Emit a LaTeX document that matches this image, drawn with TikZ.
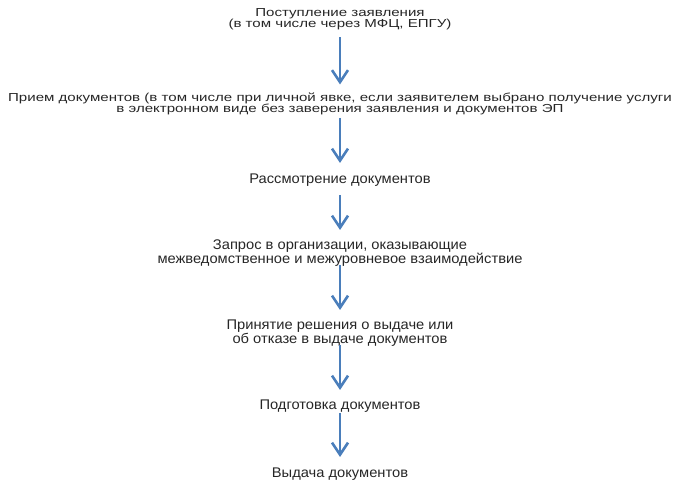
\documentclass[tikz,border=0pt]{standalone}
\usepackage{fontspec}
\setmainfont{Liberation Sans}
\newfontfamily\topfont[FakeStretch=1.3]{Liberation Sans}
\newfontfamily\lowfont[FakeStretch=1.05]{Liberation Sans}
\usetikzlibrary{arrows.meta,positioning}
\definecolor{flowblue}{HTML}{4A7EBB}
\definecolor{flowtext}{HTML}{262626}

\begin{document}
\begin{tikzpicture}[x=1pt,y=1pt,node distance=75pt,on grid,
    toptext/.style={inner sep=0pt,align=center,text=flowtext,
      font=\topfont\fontsize{11.6}{11}\selectfont},
    lowtext/.style={inner sep=0pt,align=center,text=flowtext,
      font=\lowfont\fontsize{14}{12}\selectfont},
    flow/.style={color=flowblue,line width=2.6pt,
      -{Straight Barb[length=12pt,width=16pt]}}]
   \useasboundingbox (0,0) rectangle (689,-502);
   \node [toptext] (recv) at (340,-19.5) {Поступление заявления\\(в том числе через МФЦ, ЕПГУ)};
   \node [toptext, below=84pt of recv] (accept) {Прием документов (в том числе при личной явке, если заявителем выбрано получение услуги\\в электронном виде без заверения заявления и документов ЭП};
   \node [lowtext, below=76.5pt of accept] (review) {Рассмотрение документов};
   \node [lowtext, below=73.4pt of review] (query) {Запрос в организации, оказывающие\\межведомственное и межуровневое взаимодействие};
   \node [lowtext, below=80pt of query] (decide) {Принятие решения о выдаче или\\об отказе в выдаче документов};
   \node [lowtext, below=73pt of decide] (prepare) {Подготовка документов};
   \node [lowtext, below=68pt of prepare] (issue) {Выдача документов};
    \path[flow]
    (recv.center) edge [shorten <=18pt, shorten >=19pt] (accept.center)
    (accept.center) edge [shorten <=14.5pt, shorten >=17pt] (review.center)
    (review.center) edge [shorten <=15pt, shorten >=23.4pt] (query.center)
    (query.center) edge [shorten <=11.6pt, shorten >=23.4pt] (decide.center)
    (decide.center) edge [shorten <=11.6pt, shorten >=16.4pt] (prepare.center)
    (prepare.center) edge [shorten <=6.6pt, shorten >=17.4pt] (issue.center);
\end{tikzpicture}
\end{document}
